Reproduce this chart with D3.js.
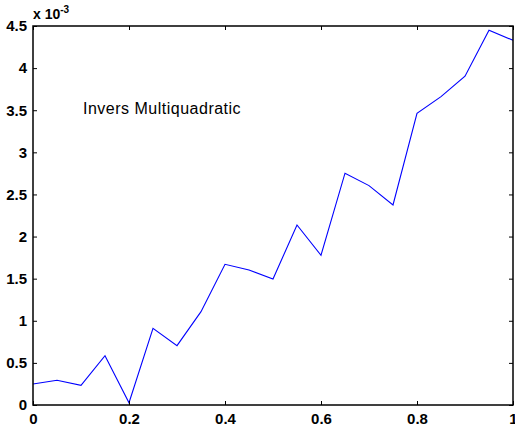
<!DOCTYPE html>
<html><head><meta charset="utf-8">
<script src="https://cdn.jsdelivr.net/npm/d3@7"></script>
<style>body{margin:0;background:#fff}svg{display:block}</style>
</head><body>
<script>
const xValues = [0,0.05,0.1,0.15,0.2,0.25,0.3,0.35,0.4,0.45,0.5,0.55,0.6,0.65,0.7,0.75,0.8,0.85,0.9,0.95,1.0];
const yValues = [0.249,0.293,0.234,0.586,0.027,0.91,0.705,1.108,1.671,1.603,1.495,2.138,1.778,2.752,2.605,2.375,3.464,3.662,3.904,4.45,4.33];
const xTicks = [0,0.2,0.4,0.6,0.8,1];
const yTicks = [0,0.5,1,1.5,2,2.5,3,3.5,4,4.5];
const xTickLabels = ["0","0.2","0.4","0.6","0.8","1"];
const yTickLabels = ["0","0.5","1","1.5","2","2.5","3","3.5","4","4.5"];
const annotation = "Invers Multiquadratic";

const W=515,H=434;
const L=33,R=513,T=26,B=405;
const svg=d3.select("body").append("svg").attr("width",W).attr("height",H);
const x=d3.scaleLinear().domain([0,1]).range([L,R]);
const y=d3.scaleLinear().domain([0,4.5]).range([B,T]);
const font="'Liberation Sans', Arial, Helvetica, sans-serif";

// line
svg.append("path").datum(xValues.map((v,i)=>[v,yValues[i]]))
  .attr("fill","none").attr("stroke","#0000ff").attr("stroke-width",1.1)
  .attr("d",d3.line().x(d=>x(d[0])).y(d=>y(d[1])));

const tl=4;
const fmtX=(d,i)=>xTickLabels[i], fmtY=(d,i)=>yTickLabels[i];
const gb=svg.append("g").attr("transform",`translate(0,${B})`)
  .call(d3.axisBottom(x).tickValues(xTicks).tickFormat(fmtX).tickSizeInner(-tl).tickSizeOuter(0).tickPadding(8));
const gt=svg.append("g").attr("transform",`translate(0,${T})`)
  .call(d3.axisTop(x).tickValues(xTicks).tickFormat("").tickSizeInner(-tl).tickSizeOuter(0));
const gl=svg.append("g").attr("transform",`translate(${L},0)`)
  .call(d3.axisLeft(y).tickValues(yTicks).tickFormat(fmtY).tickSizeInner(-tl).tickSizeOuter(0).tickPadding(6));
const gr=svg.append("g").attr("transform",`translate(${R},0)`)
  .call(d3.axisRight(y).tickValues(yTicks).tickFormat("").tickSizeInner(-tl).tickSizeOuter(0));
[gb,gt,gl,gr].forEach(g=>{
  g.select(".domain").remove();
  g.selectAll("line").attr("stroke","#000").attr("stroke-width",1);
  g.selectAll("text").attr("fill","#000").style("font-family",font).style("font-size","15px").style("font-weight","bold");
});
gb.selectAll("text").attr("dy","0.71em");
svg.append("rect").attr("x",L).attr("y",T).attr("width",R-L).attr("height",B-T)
  .attr("fill","none").attr("stroke","#000").attr("stroke-width",1.5);

const ex=svg.append("text").attr("x",L).attr("y",19).attr("fill","#000")
  .style("font-family",font).style("font-size","14px").style("font-weight","bold");
ex.append("tspan").text("x 10");
ex.append("tspan").attr("dy",-6).style("font-size","10px").text("-3");

svg.append("text").attr("x",83).attr("y",114).text(annotation)
  .style("font-family",font).style("font-size","16px").style("letter-spacing","0.5px").attr("fill","#000");
</script>
</body></html>
